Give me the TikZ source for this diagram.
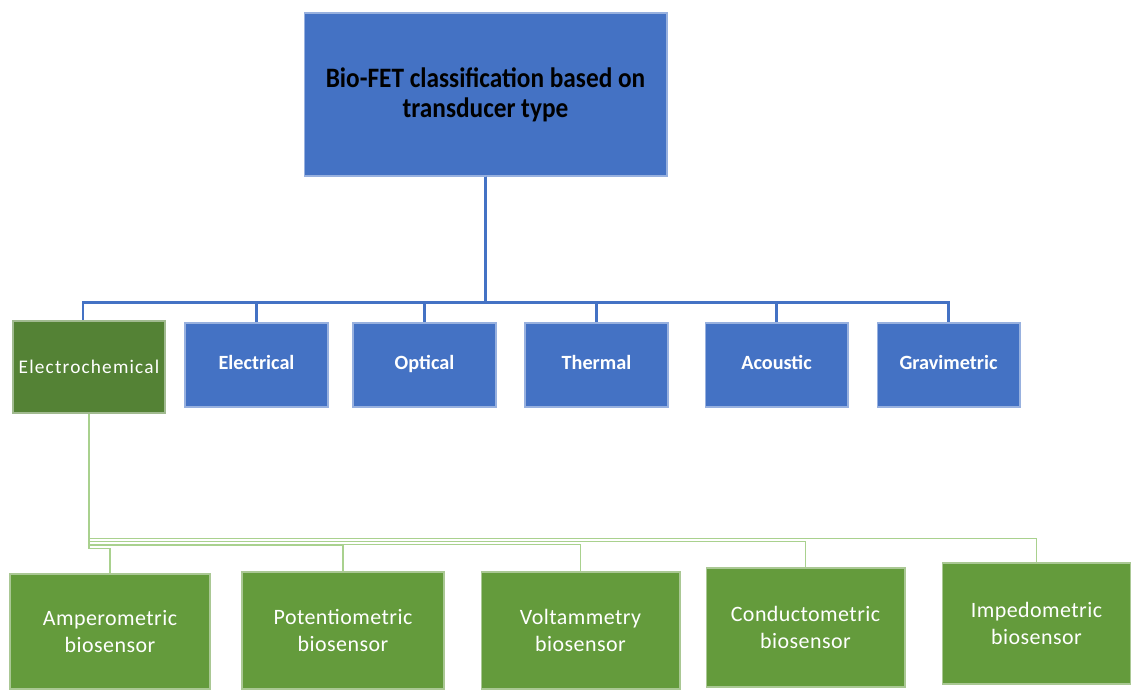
\documentclass[tikz,border=0pt]{standalone}
\usepackage{fontspec}
\setmainfont{Carlito}
\newfontfamily\rootfont{Carlito}[FakeStretch=0.9]
\newfontfamily\spacedfont{Carlito}[LetterSpace=6]
\newfontfamily\sensorfont{Carlito}[LetterSpace=2]
\definecolor{officeblue}{RGB}{68,114,196}
\definecolor{officegreen}{RGB}{100,155,60}
\definecolor{deepgreen}{RGB}{84,130,53}
\definecolor{palegreen}{RGB}{169,209,142}

\begin{document}
\begin{tikzpicture}[x=0.02cm, y=-0.02cm,
  rootbox/.style={fill=officeblue, draw=officeblue!55!white, line width=0.6pt,
    minimum width=7.26cm, minimum height=3.26cm, align=center, inner sep=0pt,
    font=\rootfont\bfseries\fontsize{16}{17}\selectfont},
  typebox/.style={fill=officeblue, draw=officeblue!55!white, line width=0.6pt,
    minimum width=2.86cm, minimum height=1.68cm, inner sep=0pt, text=white,
    text height=0.72em, text depth=0.22em,
    font=\bfseries\fontsize{11.5}{14}\selectfont},
  chembox/.style={fill=deepgreen, draw=deepgreen!55!white, line width=0.6pt,
    minimum width=3.04cm, minimum height=1.84cm, inner sep=0pt, text=white,
    font=\spacedfont\fontsize{11}{14}\selectfont},
  sensorbox/.style={fill=officegreen, draw=officegreen!55!white, line width=0.6pt,
    align=center, inner sep=0pt, text=white,
    font=\sensorfont\fontsize{12.5}{15.3}\selectfont},
  bline/.style={draw=officeblue, line width=1.3pt},
  gline/.style={draw=palegreen, line width=1pt}]
  \useasboundingbox (0,0) rectangle (1131,689);

  \node[rootbox] (root) at (485.5,94.5) {Bio-FET classification based on\\transducer type};

  \node[chembox] (echem) at (89,367) {Electrochemical};
  \node[typebox] (elec) at (256.5,365) {Electrical};
  \node[typebox] (opt) at (424.5,365) {Optical};
  \node[typebox] (therm) at (596.5,365) {Thermal};
  \node[typebox] (acou) at (776.5,365) {Acoustic};
  \node[typebox] (grav) at (948.5,365) {Gravimetric};

  \node[sensorbox, minimum width=4cm, minimum height=2.3cm] (amp) at (110,631.5) {Amperometric\\biosensor};
  \node[sensorbox, minimum width=4.04cm, minimum height=2.34cm] (pot) at (343,630.5) {Potentiometric\\biosensor};
  \node[sensorbox, minimum width=3.98cm, minimum height=2.34cm] (volt) at (580.5,630.5) {Voltammetry\\biosensor};
  \node[sensorbox, minimum width=3.98cm, minimum height=2.38cm] (cond) at (805.5,627.5) {Conductometric\\biosensor};
  \node[sensorbox, minimum width=3.78cm, minimum height=2.42cm] (imp) at (1036.5,623.5) {Impedometric\\biosensor};

  \draw[bline] (root.south) -- ++(0,126) -| ([xshift=-0.12cm]echem.north);
  \foreach \n in {elec,opt,therm,acou,grav}
    \draw[bline] (root.south) -- ++(0,126) -| (\n.north);

  \foreach \n/\d in {imp/125,cond/128,volt/131,pot/132,amp/135}
    \draw[gline] (echem.south) -- ++(0,\d) -| (\n.north);
\end{tikzpicture}
\end{document}
